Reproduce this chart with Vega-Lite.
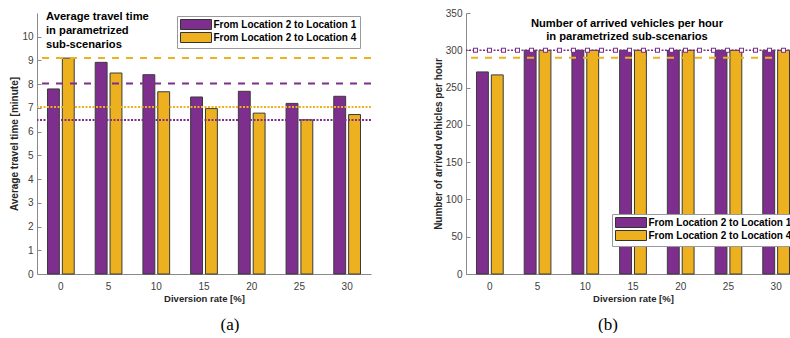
{
  "$schema": "https://vega.github.io/schema/vega-lite/v6.json",
  "background": "white",
  "padding": {"left": 9, "top": 8, "right": 0, "bottom": 0},
  "config": {
    "view": {"stroke": null},
    "font": "Liberation Sans",
    "axis": {
      "labelFont": "Liberation Sans",
      "labelFontSize": 10,
      "labelColor": "#404040",
      "titleFont": "Liberation Sans",
      "titleFontWeight": "bold",
      "titleColor": "#262626",
      "domainColor": "#8a8a8a",
      "tickColor": "#8a8a8a",
      "grid": false,
      "labelOverlap": false
    },
    "axisX": {"ticks": false, "tickSize": 0, "labelAngle": 0, "labelPadding": 7, "titlePadding": 2, "titleFontSize": 9.5},
    "axisY": {"ticks": true, "tickSize": -4, "labelPadding": 8, "titlePadding": 2},
    "legend": {
      "orient": "none",
      "title": null,
      "direction": "vertical",
      "fillColor": "white",
      "strokeColor": "#9a9a9a",
      "padding": 3,
      "symbolType": "M-3.1,-1H3.1V1H-3.1Z",
      "symbolSize": 100,
      "symbolOffset": 10.5,
      "symbolStrokeColor": "#333333",
      "symbolStrokeWidth": 1,
      "symbolOpacity": 1,
      "labelOffset": 12,
      "labelFont": "Liberation Sans",
      "labelFontSize": 10,
      "labelFontWeight": "bold",
      "labelColor": "#000000",
      "rowPadding": -4,
      "labelLimit": 300
    }
  },
  "datasets": {
    "travel": [
      {"rate": 0, "route": "From Location 2 to Location 1", "time": 7.8},
      {"rate": 5, "route": "From Location 2 to Location 1", "time": 8.92},
      {"rate": 10, "route": "From Location 2 to Location 1", "time": 8.4},
      {"rate": 15, "route": "From Location 2 to Location 1", "time": 7.46},
      {"rate": 20, "route": "From Location 2 to Location 1", "time": 7.7},
      {"rate": 25, "route": "From Location 2 to Location 1", "time": 7.19},
      {"rate": 30, "route": "From Location 2 to Location 1", "time": 7.49},
      {"rate": 0, "route": "From Location 2 to Location 4", "time": 9.1},
      {"rate": 5, "route": "From Location 2 to Location 4", "time": 8.47},
      {"rate": 10, "route": "From Location 2 to Location 4", "time": 7.68},
      {"rate": 15, "route": "From Location 2 to Location 4", "time": 6.97},
      {"rate": 20, "route": "From Location 2 to Location 4", "time": 6.78},
      {"rate": 25, "route": "From Location 2 to Location 4", "time": 6.5},
      {"rate": 30, "route": "From Location 2 to Location 4", "time": 6.72}
    ],
    "arrived": [
      {"rate": 0, "route": "From Location 2 to Location 1", "count": 271},
      {"rate": 5, "route": "From Location 2 to Location 1", "count": 300},
      {"rate": 10, "route": "From Location 2 to Location 1", "count": 300},
      {"rate": 15, "route": "From Location 2 to Location 1", "count": 300},
      {"rate": 20, "route": "From Location 2 to Location 1", "count": 300},
      {"rate": 25, "route": "From Location 2 to Location 1", "count": 300},
      {"rate": 30, "route": "From Location 2 to Location 1", "count": 300},
      {"rate": 0, "route": "From Location 2 to Location 4", "count": 267},
      {"rate": 5, "route": "From Location 2 to Location 4", "count": 300},
      {"rate": 10, "route": "From Location 2 to Location 4", "count": 300},
      {"rate": 15, "route": "From Location 2 to Location 4", "count": 300},
      {"rate": 20, "route": "From Location 2 to Location 4", "count": 300},
      {"rate": 25, "route": "From Location 2 to Location 4", "count": 300},
      {"rate": 30, "route": "From Location 2 to Location 4", "count": 300}
    ],
    "one": [{"k": 1}]
  },
  "spacing": 61,
  "resolve": {"scale": {"color": "independent"}, "legend": {"color": "independent"}},
  "hconcat": [
    {
      "title": {"text": "(a)", "orient": "bottom", "anchor": "middle", "frame": "group", "baseline": "top", "offset": 14, "dx": 193, "font": "Liberation Serif", "fontSize": 17, "fontWeight": "normal", "color": "#000000"},
      "vconcat": [
        {
          "width": 334,
          "height": 261,
          "title": {"text": ["Average travel time", "in parametrized", "sub-scenarios"], "anchor": "start", "frame": "group", "orient": "top", "baseline": "top", "offset": -42, "dx": 9, "fontSize": 11.2, "fontWeight": "bold", "lineHeight": 14, "color": "#000000", "font": "Liberation Sans"},
          "layer": [
            {
              "data": {"name": "travel"},
              "mark": {"type": "bar", "stroke": "#3a3a3a", "strokeWidth": 1},
              "encoding": {
                "x": {"field": "rate", "type": "ordinal", "scale": {"paddingInner": 0.44, "paddingOuter": 0.22}, "axis": {"title": "Diversion rate [%]"}},
                "xOffset": {"field": "route", "type": "nominal", "scale": {"paddingInner": 0.2}},
                "y": {"field": "time", "type": "quantitative", "scale": {"domain": [0, 11], "nice": false}, "axis": {"values": [0, 1, 2, 3, 4, 5, 6, 7, 8, 9, 10, 11], "format": "d", "tickCount": 20, "labelOverlap": false, "labelBound": false, "labelExpr": "datum.value == 11 ? ' ' : datum.label", "tickOpacity": {"condition": {"test": "datum.value == 11", "value": 0}, "value": 1}, "title": "Average travel time [minute]", "titleFontSize": 10}},
                "color": {"field": "route", "type": "nominal", "scale": {"domain": ["From Location 2 to Location 1", "From Location 2 to Location 4"], "range": ["#7E2F8E", "#EDB120"]}, "legend": {"legendX": 140, "legendY": 3}}
              }
            },
            {"data": {"name": "one"}, "mark": {"type": "rule", "color": "#EDB120", "strokeWidth": 2, "strokeDash": [7, 7]}, "encoding": {"y": {"datum": 9.1}}},
            {"data": {"name": "one"}, "mark": {"type": "rule", "color": "#7E2F8E", "strokeWidth": 2, "strokeDash": [7, 7]}, "encoding": {"y": {"datum": 8.03}}},
            {"data": {"name": "one"}, "mark": {"type": "rule", "color": "#EDB120", "strokeWidth": 2, "strokeDash": [2, 1.5]}, "encoding": {"y": {"datum": 7.04}}},
            {"data": {"name": "one"}, "mark": {"type": "rule", "color": "#7E2F8E", "strokeWidth": 2, "strokeDash": [2, 1.5]}, "encoding": {"y": {"datum": 6.49}}}
          ]
        }
      ]
    },
    {
      "title": {"text": "(b)", "orient": "bottom", "anchor": "middle", "frame": "group", "baseline": "top", "offset": 14, "dx": 142, "font": "Liberation Serif", "fontSize": 17, "fontWeight": "normal", "color": "#000000"},
      "vconcat": [
        {
          "width": 334,
          "height": 261,
          "title": {"text": ["Number of arrived vehicles per hour", "in parametrized sub-scenarios"], "anchor": "middle", "frame": "group", "orient": "top", "baseline": "top", "offset": -34, "dx": -6, "fontSize": 11.2, "fontWeight": "bold", "lineHeight": 13.3, "color": "#000000", "font": "Liberation Sans"},
          "layer": [
            {
              "data": {"name": "arrived"},
              "mark": {"type": "bar", "stroke": "#3a3a3a", "strokeWidth": 1},
              "encoding": {
                "x": {"field": "rate", "type": "ordinal", "scale": {"paddingInner": 0.44, "paddingOuter": 0.22}, "axis": {"title": "Diversion rate [%]"}},
                "xOffset": {"field": "route", "type": "nominal", "scale": {"paddingInner": 0.2}},
                "y": {"field": "count", "type": "quantitative", "scale": {"domain": [0, 350], "nice": false}, "axis": {"values": [0, 50, 100, 150, 200, 250, 300, 350], "format": "d", "tickCount": 20, "labelOverlap": false, "labelBound": false, "title": "Number of arrived vehicles per hour", "titleFontSize": 10}},
                "color": {"field": "route", "type": "nominal", "scale": {"domain": ["From Location 2 to Location 1", "From Location 2 to Location 4"], "range": ["#7E2F8E", "#EDB120"]}, "legend": {"legendX": 146, "legendY": 201}}
              }
            },
            {"data": {"name": "one"}, "mark": {"type": "rule", "color": "#7E2F8E", "strokeWidth": 1.5, "strokeDash": [2, 1.5]}, "encoding": {"y": {"datum": 300}}},
            {"data": {"name": "one"}, "mark": {"type": "rule", "color": "#7E2F8E", "strokeWidth": 5, "strokeDash": [5, 9]}, "encoding": {"y": {"datum": 300}}},
            {"data": {"name": "one"}, "mark": {"type": "rule", "color": "#ffffff", "strokeWidth": 3, "strokeDash": [3, 11], "strokeDashOffset": -1}, "encoding": {"y": {"datum": 300}}},
            {"data": {"name": "one"}, "mark": {"type": "rule", "color": "#EDB120", "strokeWidth": 2, "strokeDash": [7, 7]}, "encoding": {"y": {"datum": 290}}}
          ]
        }
      ]
    }
  ]
}
